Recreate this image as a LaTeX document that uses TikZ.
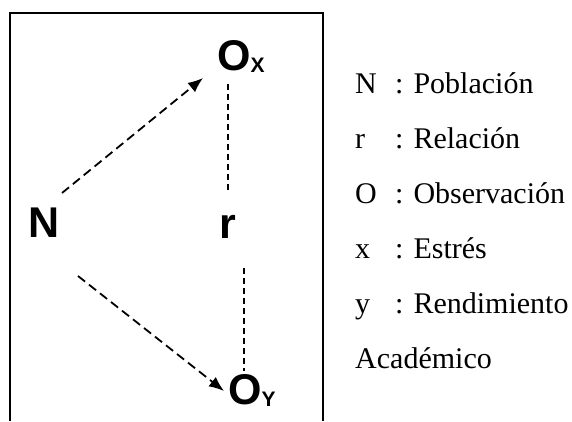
\documentclass[tikz,border=0pt]{standalone}
\usepackage{fontspec}
\setmainfont{Liberation Serif}
\newfontfamily\etiq{Liberation Sans}
\usetikzlibrary{arrows.meta,calc}

\begin{document}
\begin{tikzpicture}[x=1pt, y=-1pt, >={Latex[length=15pt,width=12pt]},
  etiqueta/.style={inner sep=0pt, font=\etiq\bfseries\fontsize{43}{43}\selectfont},
  leyenda/.style={inner sep=0pt, anchor=base west, font=\fontsize{30}{30}\selectfont},
  flecha/.style={->, line width=1.8pt, dash pattern=on 9pt off 5pt},
  relacion/.style={line width=1.3pt, dash pattern=on 6pt off 4pt}]

  % lienzo
  \useasboundingbox (0,0) rectangle (572,421);

  % marco abierto por abajo
  \draw[line width=1.5pt] (10,421) -- (10,13) -- (323,13) -- (323,421);

  % variables del diseno
  \node[etiqueta] (N) at (44.5,222.5) {N};
  \node[etiqueta, anchor=base] (r) at (228,238) {r};
  \node[etiqueta, anchor=base west] (Ox) at (217,70)
    {O\raisebox{-2.5pt}{\fontsize{21}{21}\selectfont X}};
  \node[etiqueta, anchor=base west] (Oy) at (228,404)
    {O\raisebox{-2.5pt}{\fontsize{21}{21}\selectfont Y}};

  % flechas desde la poblacion
  \draw[flecha] ([shift={(17.5,-29.5)}]N.center) -- ([shift={(-14,8)}]Ox.base west);
  \draw[flecha] ([shift={(33.5,53.5)}]N.center) -- ([shift={(-4,-13)}]Oy.base west);

  % relacion entre observaciones
  \draw[relacion] ([shift={(11,14)}]Ox.base west) -- ([shift={(0,-45)}]r.base);
  \draw[relacion] ([shift={(16,30)}]r.base) -- ([shift={(16,-33)}]Oy.base west);

  % leyenda
  \foreach \sim/\txt [count=\i] in {N/Población, r/Relación, O/Observación, x/Estrés, y/Rendimiento}
  {
    \node[leyenda] (sim\i) at (355,{38+55*\i}) {\sim};
    \node[leyenda] (def\i) at (395,{38+55*\i}) {: \txt};
  }
  \node[leyenda] (def6) at (355,368) {Académico};

\end{tikzpicture}
\end{document}
